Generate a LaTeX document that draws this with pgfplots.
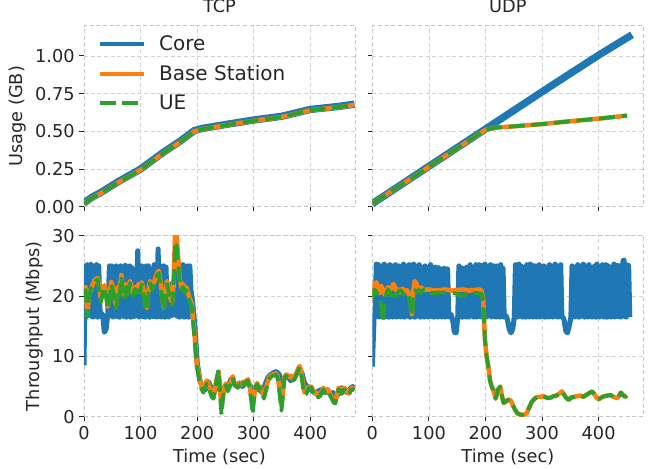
\documentclass[border=0pt]{standalone}
\usepackage{fontspec}
\setmainfont{DejaVu Sans}
\usepackage{pgfplots}
\pgfplotsset{compat=1.18}
\usepackage{pgfplotstable}
\usepgfplotslibrary{groupplots}
\usetikzlibrary{calc}

\definecolor{cblue}{HTML}{1F77B4}
\definecolor{corange}{HTML}{FF7F0E}
\definecolor{cgreen}{HTML}{2CA02C}
\definecolor{txt}{HTML}{262626}

% usage (GB)
\pgfplotstableread{
t u
0 0.025
15 0.065
30 0.095
60 0.165
100 0.25
140 0.36
170 0.435
195 0.505
210 0.52
250 0.545
300 0.575
350 0.60
400 0.645
450 0.665
478 0.68
}\tcpcoreu
\pgfplotstableread{
t u
0 0.02
15 0.06
30 0.09
60 0.16
100 0.245
140 0.355
170 0.43
195 0.50
210 0.515
250 0.54
300 0.57
350 0.595
400 0.64
450 0.66
478 0.675
}\tcpbsu
\pgfplotstableread{
t u
0 0.02
100 0.268
200 0.515
300 0.762
400 1.005
459 1.14
}\udpcoreu
\pgfplotstableread{
t u
0 0.02
100 0.265
200 0.51
220 0.525
250 0.533
300 0.548
350 0.567
400 0.584
450 0.604
}\udpbsu

% throughput (Mbps)
\pgfplotstableread{
t v
0 8.5
2 25
4 16.5
6 25.2
8 16.8
10 25
12 25.3
14 16.6
16 16.5
18 25
20 16.7
22 25.2
24 16.5
26 25
28 18
30 16.6
33 17
36 14
39 14.5
42 17
45 25
47 16.8
49 25
51 16.5
54 16.7
57 25
59 16.6
61 24.8
63 16.5
65 25
67 17
69 24.8
71 16.6
73 25.1
75 16.5
77 24.8
79 16.7
81 25
83 16.5
85 24.7
87 16.8
89 16.6
92 17
95 27.5
97 16.5
99 16.7
102 25
104 16.6
106 24.8
108 16.5
110 25
112 16.8
114 25
116 16.5
118 17
120 24.5
122 16.6
124 25.2
126 16.7
128 16.5
131 27.8
133 16.6
135 25
137 16.5
139 16.8
141 25
143 16.5
145 24.8
147 16.7
150 16.5
153 22
156 16.8
159 21
162 17
165 16.6
167 25
169 16.5
171 25
173 16.7
175 25.2
177 16.5
179 24.8
181 16.6
183 25
185 16.5
187 25
189 21
192 19
196 15
200 9
205 6
210 4.8
215 4.5
220 5.8
225 4.8
230 4
235 5.5
240 4.5
245 4
250 5
255 5
260 6.3
265 5.5
270 5.2
275 5.6
280 5
285 5.8
290 5.5
295 5
300 4.2
305 4.6
310 4.5
315 4
320 5.3
325 6.5
330 7
335 7.3
340 7.5
345 7
350 5.5
355 6.5
360 6.8
365 6
370 6.3
375 7
380 8
385 7.3
390 5.5
395 5
400 4.5
405 4.2
410 4
415 4.3
420 4.5
425 4
430 4.2
435 3.8
440 4
445 3.2
450 3.8
455 4.8
460 4.5
465 4
470 4.6
475 5
478 4.6
}\tcpcore
\pgfplotstableread{
t v
0 21
3 21.5
6 17
9 20.5
12 21
15 21.8
18 22.5
21 22.8
24 23
27 21.5
30 19.5
33 21
36 21.8
39 20.5
42 18.2
45 20
48 22.4
51 21.5
54 19.5
57 18.5
60 21.5
63 20.5
66 23.5
69 21
72 20
75 22
78 20.5
81 22.5
84 21.5
87 20.5
90 21.5
93 21
96 22
99 20.8
102 22.3
105 21
108 19
111 18
114 21
117 22.5
120 21.5
123 22
126 23
129 23.8
132 24.2
135 22.5
138 20
141 18
144 20.5
147 22.5
150 21
153 19.5
156 19
159 24
161 30.5
163 31
166 27
169 23
172 21.5
175 22
178 21
181 21.5
184 20.5
187 19.5
190 19
193 16
196 13
199 9
202 7.5
205 6
208 5
211 4.5
214 5.2
217 6
220 5.5
223 4.5
226 3.8
229 3.5
232 5
235 6.5
238 7.5
241 4
243 1.5
245 3
248 5
251 5.5
254 4.5
257 5
260 6
263 6.7
266 5.5
269 5.2
272 5
275 5.6
278 5.3
281 5.8
284 5.4
287 6
290 6.2
293 5
296 3
298 1.5
300 3
303 5
306 5.6
309 4.8
312 5
315 4.2
318 3.4
321 4.5
324 5.5
327 6.5
330 6.8
333 7
336 7
339 7.2
342 6.8
345 5
347 3.5
349 1.8
351 3.5
354 6.5
357 7
360 6.8
363 6.6
366 6.8
369 6.2
372 6.5
375 7
378 7.8
381 8.4
384 7.5
387 5.5
390 4
393 4.2
396 4.8
399 5
402 5
405 4.3
408 3.8
411 4
414 3.5
417 3.6
420 4.2
423 4.8
426 4.2
429 4.6
432 4.5
435 3.8
438 3.2
441 2.6
444 2.4
447 3.6
450 4.8
453 4.6
456 4
459 4.8
462 4.6
465 4.2
468 3.8
471 4.5
474 4.8
478 4.6
}\tcpbs
\pgfplotstableread{
t v
0 20.5
3 21
6 16.5
9 20
12 21.2
15 21.5
18 22
21 22.5
24 22.8
27 21
30 19
33 20.5
36 21.5
39 20
42 17.8
45 19.5
48 22
51 21
54 19
57 18
60 21
63 20
66 23.2
69 20.5
72 19.5
75 21.5
78 20
81 22.2
84 21
87 20
90 21.2
93 20.5
96 21.5
99 20.5
102 22
105 20.5
108 18.5
111 17.5
114 20.5
117 22.2
120 21
123 21.5
126 22.5
129 23.5
132 23.8
135 22
138 19.5
141 17.5
144 20
147 22
150 20.5
153 19
156 18.5
159 23
161 28
163 29
166 26
169 22.5
172 21
175 21.5
178 20.5
181 21
184 20
187 19
190 18.5
193 15.5
196 12.5
199 8.5
202 7
205 5.5
208 4.5
211 4
214 4.8
217 5.5
220 5
223 4
226 3.2
229 3
232 4.5
235 6.5
238 7.8
241 3.5
243 0.3
245 2.5
248 4.8
251 5.2
254 4.2
257 4.8
260 5.8
263 6.5
266 5.2
269 5
272 4.8
275 5.4
278 5
281 5.6
284 5.2
287 5.8
290 6
293 4.5
296 2.5
298 0.4
300 2.5
303 4.8
306 5.4
309 4.5
312 4.8
315 4
318 3
321 4.2
324 5.2
327 6.2
330 6.5
333 6.8
336 6.8
339 7
342 6.5
345 4.5
347 2.8
349 1
351 3
354 6.2
357 6.8
360 6.5
363 6.3
366 6.5
369 6
372 6.2
375 6.8
378 7.5
381 8.2
384 7.2
387 5
390 3.6
393 3.8
396 4.5
399 4.8
402 4.8
405 4
408 3.5
411 3.8
414 3.2
417 3.4
420 4
423 4.5
426 4
429 4.4
432 4.2
435 3.5
438 3
441 2.4
444 2.2
447 3.4
450 4.5
453 4.4
456 3.8
459 4.5
462 4.4
465 4
468 3.6
471 4.2
474 4.6
478 4.4
}\tcpue
\pgfplotstableread{
t v
0 8.3
3 16.5
5 17
7 25.3
9 16.6
11 25.2
13 16.5
15 16.8
17 25
19 16.5
21 25.3
23 16.7
25 16.6
27 25
29 16.5
31 25.2
33 16.6
35 25
37 16.5
39 16.7
41 25.2
43 16.5
45 16.8
47 25
49 16.6
51 16.5
53 16.7
55 25.3
57 16.5
59 25
61 16.8
63 16.6
65 25.2
67 16.5
69 25
71 16.7
73 25.3
75 16.5
77 25
79 16.6
81 16.8
83 25.2
85 16.5
87 24.8
89 16.7
91 16.5
93 25
95 16.6
97 24.8
99 16.5
101 16.8
103 25.2
105 16.6
107 24.6
109 16.5
111 24.8
113 16.7
115 16.5
117 24.7
119 16.6
121 24.5
123 16.5
125 16.8
127 24.6
129 16.5
131 16.7
133 24.5
135 16.6
137 16.5
139 17
142 16
145 14
148 13.9
151 16.5
153 25
155 16.6
157 24.7
159 16.5
161 24.6
163 16.7
165 16.5
167 24.8
169 16.6
171 16.5
173 25.2
175 16.7
177 24.8
179 16.5
181 16.6
183 25.2
185 16.5
187 16.8
189 25.2
191 16.6
193 16.5
195 25.1
197 16.7
199 25.3
201 16.5
203 16.6
205 25
207 16.7
209 25.2
211 16.5
213 16.8
215 25
217 16.6
219 16.5
221 25
223 16.7
225 16.5
227 25.2
229 16.6
231 24.6
233 16.5
235 16.8
237 16.6
239 16
242 14.5
245 13.9
248 14.5
251 16.5
253 25.2
255 16.6
257 16.5
259 25.3
261 16.7
263 25
265 16.5
267 16.6
269 24.8
271 16.5
273 25.2
275 16.7
277 16.5
279 25.3
281 16.6
283 25.1
285 16.5
287 16.7
289 25
291 16.5
293 16.6
295 25.2
297 16.5
299 16.8
301 16.6
303 25
305 16.5
307 24.8
309 16.7
311 16.5
313 25.2
315 16.6
317 25
319 16.5
321 16.8
323 25.3
325 16.6
327 25
329 16.5
331 16.7
333 25.2
335 16.6
337 16.5
339 16
342 14.2
345 13.9
348 15
351 16.5
353 25
355 16.6
357 24.8
359 16.5
361 16.7
363 25.2
365 16.5
367 25
369 16.6
371 16.8
373 25.3
375 16.5
377 25
379 16.7
381 16.5
383 25.2
385 16.6
387 24.8
389 16.5
391 16.7
393 25
395 16.5
397 25.3
399 16.6
401 16.5
403 25
405 16.7
407 25.2
409 16.5
411 16.6
413 25.2
415 16.5
417 25
419 16.7
421 16.5
423 24.8
425 16.6
427 25.3
429 16.5
431 16.8
433 25.1
435 16.6
437 25
439 16.5
441 16.7
443 25.8
445 26
447 16.6
449 16.5
451 25.2
453 25
455 16.5
}\udpcore
\pgfplotstableread{
t v
0 20
3 21.8
7 22.3
10 21.5
13 20.5
16 21.7
19 21
22 20.2
25 20.6
28 21.5
31 21
34 21.3
37 22
40 21.5
43 20.8
46 21.1
49 20.6
52 21.2
55 21.1
58 20.8
61 21
64 20.5
67 19.5
70 17
72 20.5
75 22.5
78 22
81 21.4
84 21.2
87 21.4
90 21
100 21.1
110 20.9
120 21
130 21.1
140 20.9
150 21
160 21.1
170 20.9
180 21
190 21.1
193 20.9
196 19.4
199 12.8
202 10
205 8.3
208 6
211 5
214 4.4
218 3
222 4.5
226 5
229 3.5
232 2.3
236 2.5
240 2.8
244 2.8
248 2
252 1.2
256 0.6
260 0.4
265 0.3
270 0.4
273 0.6
277 1.5
282 2.5
287 3
292 3.3
297 3.3
302 3.4
307 3.2
311 3.1
316 3.2
320 3.4
325 3.5
330 3.8
335 4.2
338 3.8
342 3.2
347 2.8
352 3.2
357 3.3
362 3.4
368 3.5
373 3.3
378 3.6
383 3.9
388 4.2
392 3.8
396 3.2
400 2.9
405 3.2
410 3.4
415 3.5
421 3.6
426 3.3
433 3.1
437 3.6
439 4.0
443 3.6
447 3.3
450 3.5
}\udpbs
\pgfplotstableread{
t v
0 19.5
4 21.1
8 20.5
13 19.7
16 18
19 15.8
22 19
25 20.5
28 21.1
31 20.5
34 20
37 20.6
40 20
44 20.5
48 21
52 20.8
56 20.2
60 20.5
64 20.3
67 18.5
70 16.7
73 19.5
76 21
79 20.6
82 21
86 20.5
90 21.1
100 20.6
110 20.5
120 20.6
130 20.6
140 20.5
150 20.4
153 20
158 20
163 20.1
166 20.5
175 20.6
185 20.5
193 20.4
196 19.2
199 12.8
202 10
205 8.3
208 6
211 5
214 4.4
218 3
222 4.5
226 5
229 3.5
232 2.3
236 2.5
240 2.8
244 2.8
248 2
252 1.2
256 0.6
260 0.4
265 0.3
270 0.4
273 0.6
277 1.5
282 2.5
287 3
292 3.3
297 3.3
302 3.4
307 3.2
311 3.1
316 3.2
320 3.4
325 3.5
330 3.8
335 4.2
338 3.8
342 3.2
347 2.8
352 3.2
357 3.3
362 3.4
368 3.5
373 3.3
378 3.6
383 3.9
388 4.2
392 3.8
396 3.2
400 2.9
405 3.2
410 3.4
415 3.5
421 3.6
426 3.3
433 3.1
437 3.6
439 4.0
443 3.6
447 3.3
450 3.5
}\udpue

\begin{document}
\begin{tikzpicture}
\pgfplotsset{
  core/.style={draw=cblue, line width=3.8pt, line join=round, no marks},
  coreu/.style={draw=cblue, line width=5.5pt, line join=round, no marks},
  bs/.style={draw=corange, line width=3.4pt, line join=round, no marks},
  ue/.style={draw=cgreen, line width=2.9pt, dash pattern=on 12pt off 5pt, line join=round, no marks},
}
\begin{groupplot}[
  group style={group size=2 by 2, horizontal sep=13pt, vertical sep=21.75pt, group name=G},
  scale only axis,
  width=203.25pt, height=135.75pt,
  xmin=0, xmax=479,
  xtick={0,100,200,300,400},
  tick pos=left,
  tick align=outside,
  major tick length=3.5pt,
  tick style={draw=txt, line width=0.7pt},
  axis line style={draw=gray!45, line width=0.7pt, dash pattern=on 3pt off 2pt},
  grid=major,
  grid style={draw=gray!35, line width=0.6pt, dash pattern=on 3pt off 2pt},
  /pgf/number format/assume math mode=true,
  tick label style={font=\fontsize{13.3}{15}\selectfont, text=txt},
  label style={font=\fontsize{13.3}{15}\selectfont, text=txt},
  title style={font=\fontsize{13.3}{15}\selectfont, text=txt},
  clip=true,
]
\nextgroupplot[
  title={TCP}, ylabel={Usage (GB)},
  ymin=0, ymax=1.2, ytick={0,0.25,0.5,0.75,1},
  yticklabel style={/pgf/number format/.cd, fixed, fixed zerofill, precision=2},
  xticklabels={},
  legend style={at={(0.035,0.975)}, anchor=north west, draw=none, fill=none,
    font=\fontsize{15}{18}\selectfont, text=txt, row sep=5.4pt, column sep=8pt},
  legend cell align=left,
  legend image code/.code={\draw[#1, line width=3pt] (0pt,0pt) -- (33pt,0pt);},
]
\addplot[coreu] table[x=t, y=u] {\tcpcoreu};
\addlegendentry{Core}
\addplot[bs] table[x=t, y=u] {\tcpbsu};
\addlegendentry{Base Station}
\addplot[ue] table[x=t, y=u] {\tcpbsu};
\addlegendentry{UE}

\nextgroupplot[
  title={UDP},
  ymin=0, ymax=1.2, ytick={0,0.25,0.5,0.75,1},
  xticklabels={}, yticklabels={},
]
\addplot[coreu] table[x=t, y=u] {\udpcoreu};
\addplot[bs] table[x=t, y=u] {\udpbsu};
\addplot[ue] table[x=t, y=u] {\udpbsu};

\nextgroupplot[
  xlabel={Time (sec)}, ylabel={Throughput (Mbps)},
  ymin=0, ymax=30, ytick={0,10,20,30},
]
\addplot[core] table[x=t, y=v] {\tcpcore};
\addplot[bs] table[x=t, y=v] {\tcpbs};
\addplot[ue] table[x=t, y=v] {\tcpue};

\nextgroupplot[
  xlabel={Time (sec)},
  ymin=0, ymax=30, ytick={0,10,20,30}, yticklabels={},
]
\addplot[core] table[x=t, y=v] {\udpcore};
\addplot[bs] table[x=t, y=v] {\udpbs};
\addplot[ue] table[x=t, y=v] {\udpue};
\end{groupplot}
\pgfresetboundingbox
\path[use as bounding box] ($(G c1r1.north west)+(-63pt,19.3pt)$) rectangle ($(G c2r2.south east)+(9.5pt,-38.5pt)$);
\end{tikzpicture}
\end{document}
